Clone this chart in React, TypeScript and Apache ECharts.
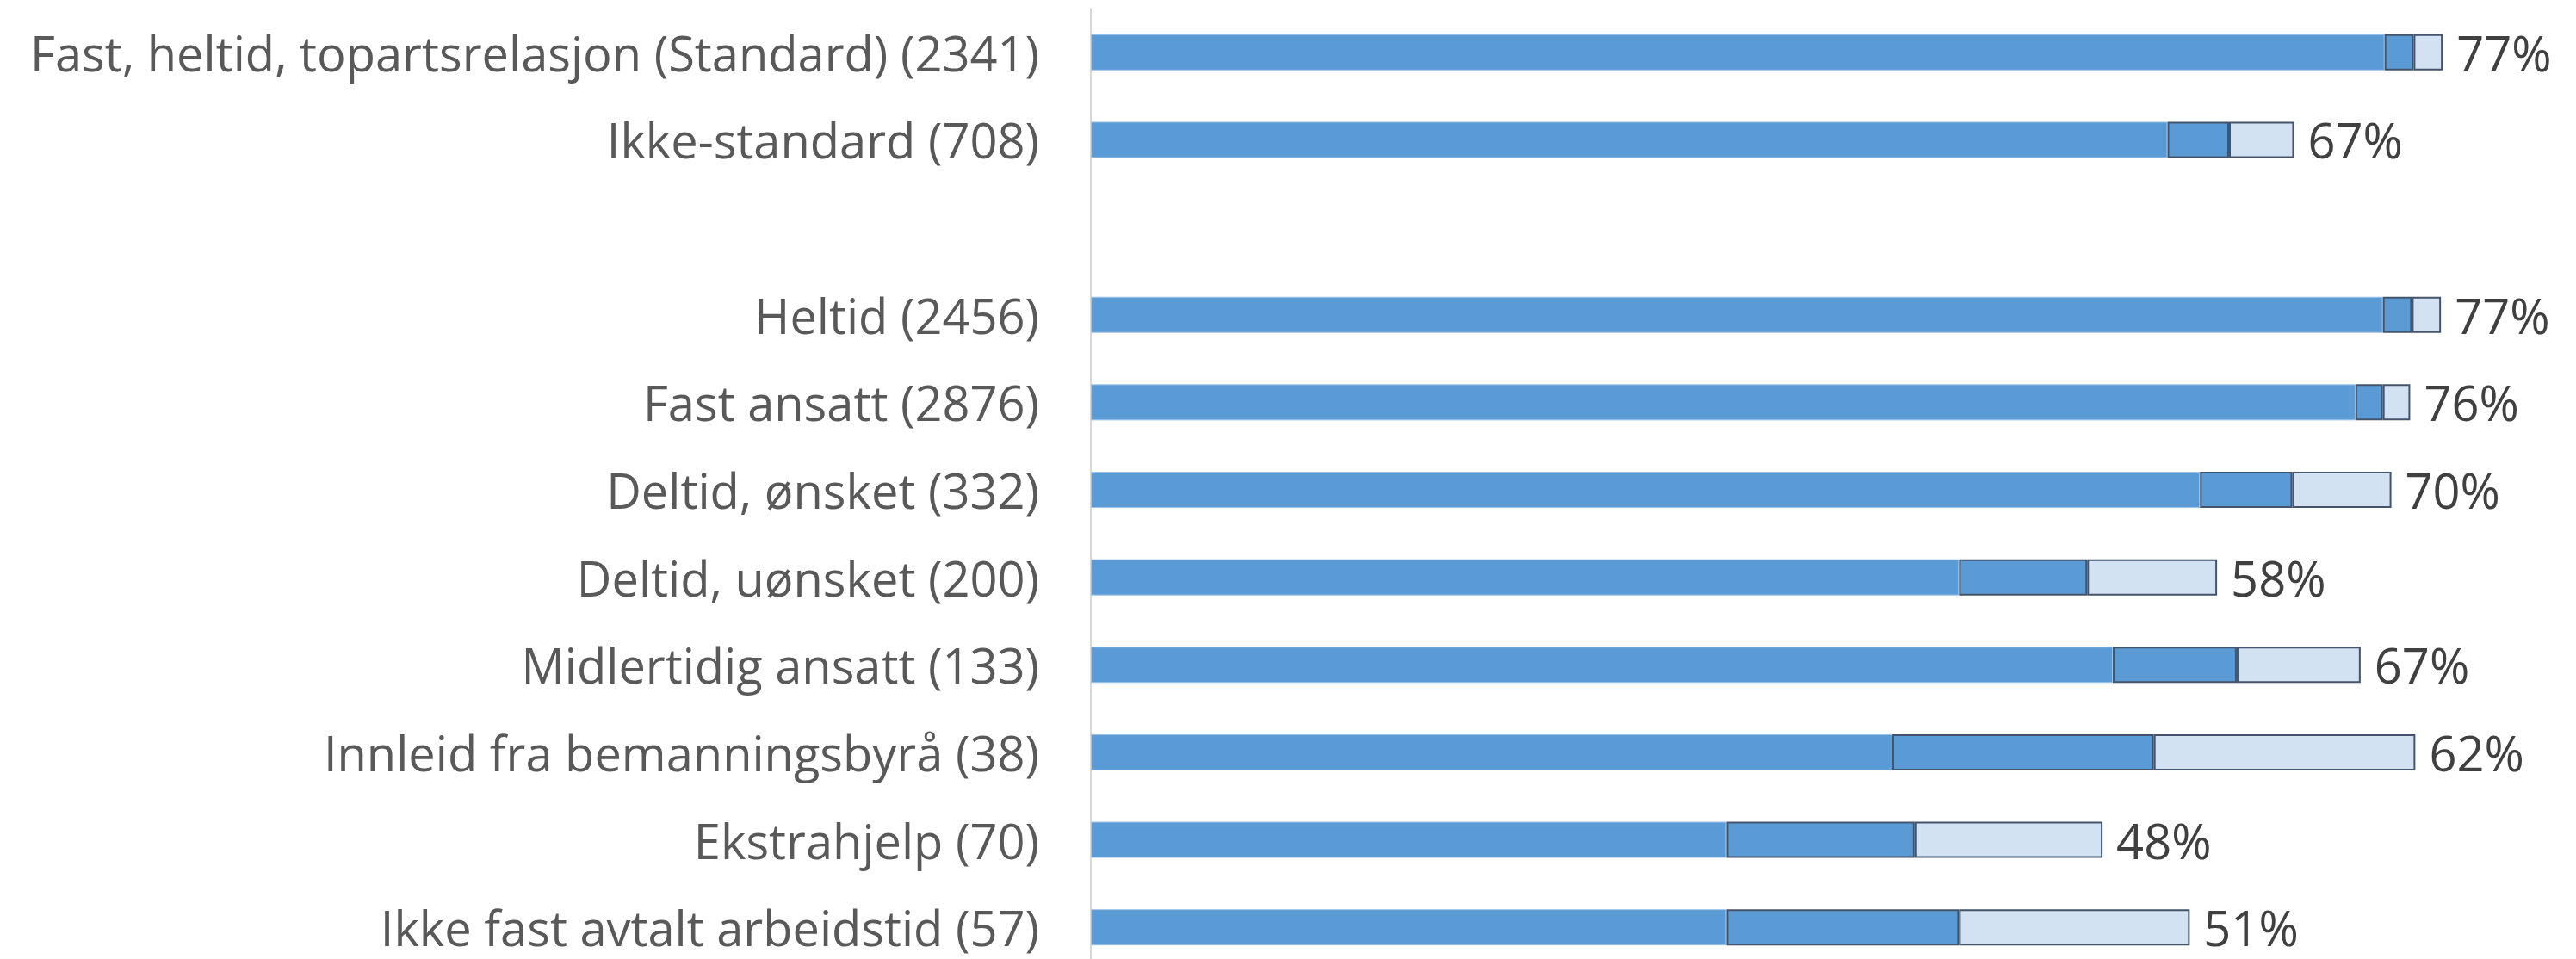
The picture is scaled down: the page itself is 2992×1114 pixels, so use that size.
import React, { useEffect, useRef } from "react";
import * as echarts from "echarts";

const categories: string[] = [
  "Fast, heltid, topartsrelasjon (Standard) (2341)",
  "Ikke-standard (708)",
  "",
  "Heltid (2456)",
  "Fast ansatt (2876)",
  "Deltid, ønsket (332)",
  "Deltid, uønsket (200)",
  "Midlertidig ansatt (133)",
  "Innleid fra bemanningsbyrå (38)",
  "Ekstrahjelp (70)",
  "Ikke fast avtalt arbeidstid (57)",
];

// lower bound, estimate, upper bound (share)
const lower: (number | null)[] = [0.757, 0.63, null, 0.756, 0.74, 0.649, 0.508, 0.598, 0.469, 0.372, 0.372];
const estimate: (number | null)[] = [0.774, 0.666, null, 0.773, 0.756, 0.703, 0.583, 0.6705, 0.622, 0.482, 0.508];
const upper: (number | null)[] = [0.791, 0.704, null, 0.79, 0.772, 0.761, 0.659, 0.743, 0.775, 0.592, 0.643];

const FONT = "'Open Sans', sans-serif";

export default function App() {
  const ref = useRef<HTMLDivElement>(null);
  useEffect(() => {
    if (!ref.current) return;
    const chart = echarts.init(ref.current, undefined, { renderer: "svg" });
    const base = lower;
    const mid = estimate.map((e, i) => (e == null || lower[i] == null ? null : +(e - (lower[i] as number)).toFixed(4)));
    const top = upper.map((u, i) => (u == null || estimate[i] == null ? null : +(u - (estimate[i] as number)).toFixed(4)));
    const barW = 42;
    chart.setOption({
      animation: false,
      grid: {
        left: 1267,
        top: 10,
        width: 0.85 * 1985,
        height: 1118,
        containLabel: false,
        outerBoundsMode: "none",
      },
      xAxis: {
        type: "value",
        min: 0,
        max: 0.85,
        show: false,
        splitLine: { show: false },
      },
      yAxis: {
        type: "category",
        data: categories,
        inverse: true,
        axisLine: { show: true, lineStyle: { color: "#d9d9d9", width: 2 } },
        axisTick: { show: false },
        axisLabel: {
          margin: 60,
          color: "#595959",
          fontSize: 56,
          fontFamily: FONT,
        },
      },
      series: [
        {
          type: "bar",
          stack: "ci",
          data: base,
          barWidth: barW,
          itemStyle: { color: "#5b9bd5", borderColor: "#9fc2e7", borderWidth: 1 },
        },
        {
          type: "bar",
          stack: "ci",
          data: mid,
          barWidth: barW,
          itemStyle: { color: "#5b9bd5", borderColor: "#44546a", borderWidth: 2 },
        },
        {
          type: "bar",
          stack: "ci",
          data: top,
          barWidth: barW,
          itemStyle: { color: "#d2e2f3", borderColor: "#44546a", borderWidth: 2 },
          label: {
            show: true,
            position: "right",
            distance: 16,
            color: "#404040",
            fontSize: 56,
            fontFamily: FONT,
            formatter: (p: any) => {
              const e = estimate[p.dataIndex];
              return e == null ? "" : Math.round(e * 100) + "%";
            },
          },
        },
      ],
    });
    return () => chart.dispose();
  }, []);
  return (
    <div
      ref={ref}
      style={{ position: "fixed", left: 0, top: 0, width: 2992, height: 1114, background: "#fff" }}
    />
  );
}
